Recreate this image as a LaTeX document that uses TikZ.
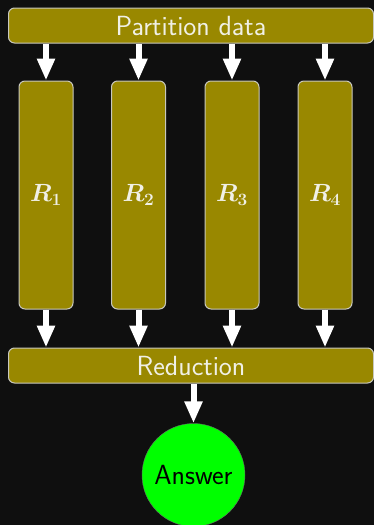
\documentclass[tikz,border=0pt]{standalone}
\usepackage{amsmath,bm}
\usetikzlibrary{arrows.meta}
\definecolor{bgc}{RGB}{15,15,15}
\definecolor{boxc}{RGB}{153,136,0}
\definecolor{edgec}{RGB}{200,200,190}
\definecolor{txtc}{RGB}{240,240,230}
\definecolor{ansc}{RGB}{0,255,0}
\tikzset{
  wide/.style={draw=edgec, line width=1pt, fill=boxc, rounded corners=6pt,
    minimum width=365pt, minimum height=35pt, inner sep=0pt,
    text=txtc, font=\fontsize{27.7}{32}\selectfont\sffamily},
  rbox/.style={draw=edgec, line width=1pt, fill=boxc, rounded corners=6pt,
    minimum width=54pt, minimum height=228pt, inner sep=0pt,
    text=txtc, font=\fontsize{26}{30}\selectfont},
  ans/.style={circle, fill=ansc, draw=black!60, line width=0.4pt, minimum size=103pt, inner sep=0pt,
    text=black, font=\fontsize{27.7}{32}\selectfont\sffamily},
  flow/.style={draw=white, fill=white, line width=6pt, -{Triangle[width=17pt,length=22pt]}}
}
\begin{document}
\begin{tikzpicture}[x=1pt,y=-1pt]
\useasboundingbox (0,0) rectangle (374,525);
\clip (0,0) rectangle (374,525);
\fill[bgc] (0,0) rectangle (374,525);
\node[wide] (part) at (191,25.5) {Partition data};
\node[rbox] (r1) at (46,195) {$\bm{R_1}$};
\node[rbox] (r2) at (138.5,195) {$\bm{R_2}$};
\node[rbox] (r3) at (232,195) {$\bm{R_3}$};
\node[rbox] (r4) at (325,195) {$\bm{R_4}$};
\node[wide] (red) at (191,365.5) {Reduction};
\node[ans] (answer) at (193.5,475) {Answer};
\foreach \r in {r1,r2,r3,r4}{
  \draw[flow] (part.south -| \r.north) -- (\r.north);
  \draw[flow] (\r.south) -- (red.north -| \r.south);
}
\draw[flow] (red.south -| answer.north) -- (answer.north);
\end{tikzpicture}
\end{document}
